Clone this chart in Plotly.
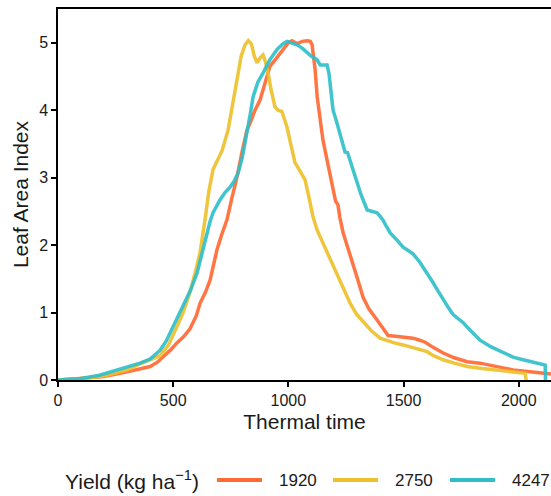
import plotly.graph_objects as go

# Yield 1920
t_1920 = [0, 95, 200, 300, 350, 400, 430, 456, 490, 516, 545, 573, 600, 617, 640, 660, 675, 690, 710, 733,
          755, 777, 800, 820, 834, 855, 877, 900, 920, 950, 977, 1000, 1016, 1030, 1042, 1060, 1081, 1095,
          1103, 1110, 1116, 1125, 1138, 1150, 1168, 1190, 1205, 1215, 1224, 1238, 1260, 1281, 1300, 1324,
          1350, 1385, 1410, 1433, 1465, 1498, 1520, 1541, 1570, 1594, 1630, 1672, 1720, 1776, 1832, 1880,
          1932, 1975, 2019, 2080, 2140]
lai_1920 = [0, 0.02, 0.05, 0.12, 0.16, 0.2, 0.26, 0.34, 0.45, 0.55, 0.64, 0.76, 0.95, 1.14, 1.3, 1.48, 1.7,
            1.93, 2.15, 2.37, 2.7, 3.01, 3.4, 3.7, 3.81, 4.0, 4.15, 4.4, 4.65, 4.78, 4.9, 5.0, 5.03, 5.0,
            4.99, 5.02, 5.03, 5.02, 4.97, 4.8, 4.6, 4.2, 3.86, 3.56, 3.26, 2.9, 2.65, 2.6, 2.4, 2.18, 1.95,
            1.74, 1.5, 1.23, 1.05, 0.89, 0.77, 0.66, 0.65, 0.64, 0.63, 0.62, 0.59, 0.56, 0.48, 0.4, 0.33,
            0.27, 0.25, 0.21, 0.18, 0.15, 0.13, 0.11, 0.09]

# Yield 2750
t_2750 = [0, 95, 200, 300, 356, 400, 443, 480, 500, 520, 543, 573, 600, 617, 638, 655, 673, 690, 712, 738,
          760, 777, 795, 812, 826, 840, 852, 864, 878, 890, 900, 912, 925, 942, 955, 972, 994, 1010, 1029,
          1040, 1055, 1072, 1090, 1107, 1125, 1138, 1160, 1190, 1224, 1245, 1268, 1295, 1324, 1360, 1398,
          1428, 1460, 1498, 1550, 1602, 1630, 1672, 1720, 1776, 1840, 1906, 1970, 2028, 2032]
lai_2750 = [0, 0.02, 0.06, 0.15, 0.24, 0.3, 0.36, 0.52, 0.66, 0.82, 1.0, 1.3, 1.65, 1.9, 2.37, 2.8, 3.12,
            3.25, 3.4, 3.7, 4.15, 4.5, 4.8, 4.97, 5.03, 4.98, 4.8, 4.7, 4.78, 4.82, 4.72, 4.55, 4.3, 4.05,
            4.0, 3.98, 3.75, 3.5, 3.22, 3.16, 3.08, 2.97, 2.7, 2.42, 2.22, 2.12, 1.96, 1.75, 1.48, 1.3, 1.14,
            0.98, 0.86, 0.73, 0.62, 0.58, 0.55, 0.52, 0.47, 0.42, 0.36, 0.3, 0.25, 0.2, 0.17, 0.15, 0.12,
            0.1, 0]

# Yield 4247
t_4247 = [0, 95, 180, 256, 300, 356, 400, 443, 470, 500, 520, 543, 575, 604, 625, 647, 660, 673, 690, 703,
          725, 747, 765, 782, 800, 821, 835, 847, 868, 890, 920, 951, 975, 994, 1015, 1037, 1060, 1081,
          1100, 1124, 1138, 1168, 1176, 1181, 1188, 1194, 1210, 1224, 1235, 1246, 1257, 1272, 1290, 1315,
          1342, 1365, 1385, 1400, 1411, 1425, 1442, 1470, 1498, 1520, 1541, 1570, 1602, 1625, 1646, 1672,
          1695, 1715, 1740, 1759, 1780, 1802, 1832, 1880, 1932, 1975, 2019, 2070, 2115, 2116]
lai_4247 = [0, 0.02, 0.07, 0.15, 0.19, 0.25, 0.31, 0.44, 0.58, 0.79, 0.93, 1.08, 1.33, 1.59, 1.88, 2.18,
            2.35, 2.48, 2.6, 2.67, 2.78, 2.86, 2.95, 3.07, 3.3, 3.66, 3.95, 4.2, 4.42, 4.55, 4.75, 4.9, 4.98,
            5.02, 5.0, 4.97, 4.92, 4.85, 4.8, 4.75, 4.67, 4.67, 4.55, 4.4, 4.2, 4.0, 3.82, 3.66, 3.5, 3.38,
            3.37, 3.2, 3.01, 2.75, 2.52, 2.5, 2.48, 2.42, 2.37, 2.28, 2.18, 2.08, 1.97, 1.92, 1.87, 1.75,
            1.59, 1.46, 1.34, 1.19, 1.07, 0.97, 0.9, 0.85, 0.77, 0.7, 0.59, 0.49, 0.4, 0.34, 0.3, 0.26,
            0.22, 0]

series_names = ["1920", "2750", "4247"]
series_t = [t_1920, t_2750, t_4247]
series_lai = [lai_1920, lai_2750, lai_4247]
colors = ["#FF6B35", "#EEC12C", "#30BFC9"]

x_ticks = [0, 500, 1000, 1500, 2000]
y_ticks = [0, 1, 2, 3, 4, 5]

fig = go.Figure()
for name, t, v, c in zip(series_names, series_t, series_lai, colors):
    fig.add_trace(go.Scatter(x=t, y=v, mode="lines", name=name, showlegend=False, hoverinfo="skip",
                             line=dict(color=c, width=3.5), opacity=0.92))

W, H = 551, 496
ML, MR, MT, MB = 58, 0, 9, 116
pw, ph = W - ML - MR, H - MT - MB


def px(x):
    return (x - ML) / pw


def py(y):
    return (H - MB - y) / ph


font = "Liberation Sans, Arial, sans-serif"
txt = "#1a1a1a"

# manual legend (ggplot-style, long key lines)
leg_y = 480
annotations = [dict(text="Yield (kg ha<sup>−1</sup>)", x=px(63), y=py(leg_y), xref="paper", yref="paper",
                    xanchor="left", yanchor="middle", showarrow=False, font=dict(size=21, color=txt))]
shapes = []
key_x = [217, 333, 450]
for name, c, kx in zip(series_names, colors, key_x):
    shapes.append(dict(type="line", xref="paper", yref="paper", x0=px(kx), x1=px(kx + 45),
                       y0=py(leg_y), y1=py(leg_y), line=dict(color=c, width=4)))
    annotations.append(dict(text=name, x=px(kx + 60), y=py(leg_y), xref="paper", yref="paper",
                            xanchor="left", yanchor="middle", showarrow=False,
                            font=dict(size=17, color=txt)))

fig.update_layout(
    width=W, height=H,
    margin=dict(l=ML, r=MR, t=MT, b=MB),
    plot_bgcolor="white", paper_bgcolor="white",
    font=dict(family=font, color=txt, size=16),
    showlegend=False,
    hovermode=False,
    annotations=annotations,
    shapes=shapes,
    xaxis=dict(range=[0, 2140], tickvals=x_ticks, showgrid=False, zeroline=False, automargin=False,
               showline=True, linecolor="black", linewidth=1.5, mirror=True,
               ticks="outside", ticklen=5, tickwidth=2, tickcolor="black",
               tickfont=dict(size=16, color=txt),
               title=dict(text="Thermal time", font=dict(size=21, color=txt), standoff=6)),
    yaxis=dict(range=[0, 5.5], tickvals=y_ticks, showgrid=False, zeroline=False, automargin=False,
               showline=True, linecolor="black", linewidth=1.5,
               ticks="outside", ticklen=5, tickwidth=2, tickcolor="black",
               tickfont=dict(size=16, color=txt),
               title=dict(text="Leaf Area Index", font=dict(size=21, color=txt), standoff=5)),
)

fig.write_html("out.html", config={"displayModeBar": False},
               post_script="document.body.style.margin='0';document.body.style.overflow='hidden';")
